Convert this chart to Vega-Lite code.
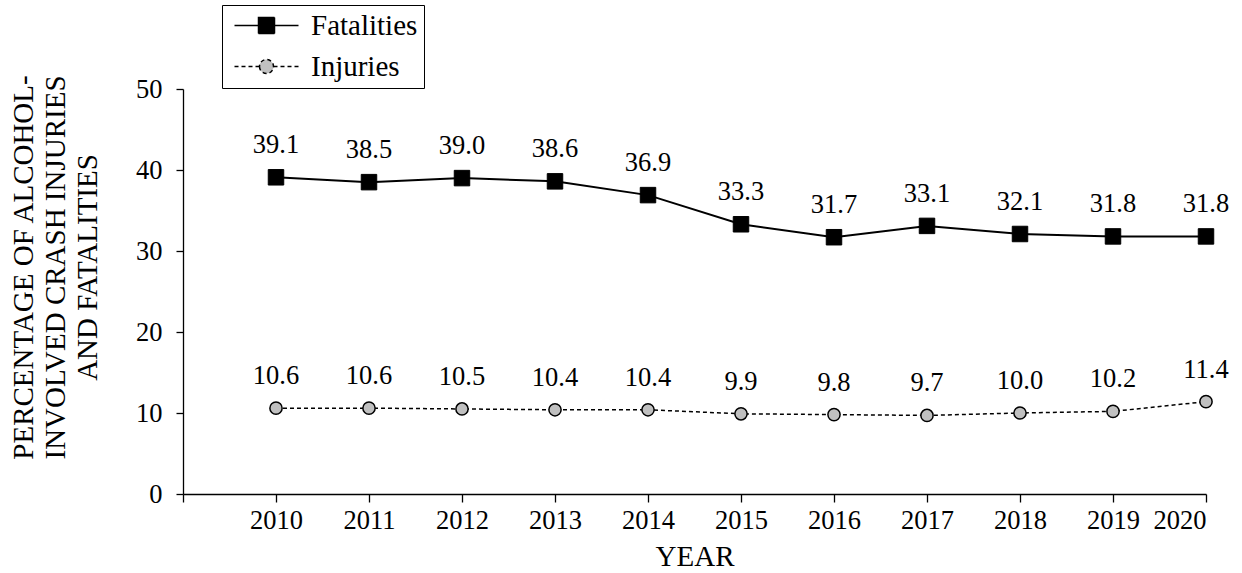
{
  "$schema": "https://vega.github.io/schema/vega-lite/v6.json",
  "width": 1023,
  "height": 405,
  "autosize": {"type": "none"},
  "padding": {"left": 183, "top": 89, "right": 36, "bottom": 79},
  "config": {
    "view": {"stroke": null},
    "font": "Liberation Serif",
    "text": {"font": "Liberation Serif"},
    "legend": {"labelFont": "Liberation Serif", "titleFont": "Liberation Serif"},
    "axis": {"grid": false, "domainColor": "black", "tickColor": "black", "labelColor": "black", "titleColor": "black", "labelFont": "Liberation Serif", "titleFont": "Liberation Serif", "titleFontWeight": "normal", "domainWidth": 1.3, "tickWidth": 1.3}
  },
  "data": {
    "values": [
      {"year": 2010, "series": "Fatalities", "value": 39.1},
      {"year": 2011, "series": "Fatalities", "value": 38.5},
      {"year": 2012, "series": "Fatalities", "value": 39.0},
      {"year": 2013, "series": "Fatalities", "value": 38.6},
      {"year": 2014, "series": "Fatalities", "value": 36.9},
      {"year": 2015, "series": "Fatalities", "value": 33.3},
      {"year": 2016, "series": "Fatalities", "value": 31.7},
      {"year": 2017, "series": "Fatalities", "value": 33.1},
      {"year": 2018, "series": "Fatalities", "value": 32.1},
      {"year": 2019, "series": "Fatalities", "value": 31.8},
      {"year": 2020, "series": "Fatalities", "value": 31.8},
      {"year": 2010, "series": "Injuries", "value": 10.6},
      {"year": 2011, "series": "Injuries", "value": 10.6},
      {"year": 2012, "series": "Injuries", "value": 10.5},
      {"year": 2013, "series": "Injuries", "value": 10.4},
      {"year": 2014, "series": "Injuries", "value": 10.4},
      {"year": 2015, "series": "Injuries", "value": 9.9},
      {"year": 2016, "series": "Injuries", "value": 9.8},
      {"year": 2017, "series": "Injuries", "value": 9.7},
      {"year": 2018, "series": "Injuries", "value": 10.0},
      {"year": 2019, "series": "Injuries", "value": 10.2},
      {"year": 2020, "series": "Injuries", "value": 11.4}
    ]
  },
  "encoding": {
    "x": {
      "field": "year", "type": "quantitative",
      "scale": {"domain": [2009, 2020], "nice": false, "zero": false},
      "axis": {
        "title": "YEAR", "titleFontSize": 29, "titleY": 48, "titleBaseline": "top",
        "values": [2009, 2010, 2011, 2012, 2013, 2014, 2015, 2016, 2017, 2018, 2019, 2020],
        "format": "d",
        "labelExpr": "datum.value == 2009 ? '' : datum.label",
        "labelFontSize": 26.5, "tickSize": 8, "labelPadding": 5
      }
    },
    "y": {
      "field": "value", "type": "quantitative",
      "scale": {"domain": [0, 50], "nice": false},
      "axis": {
        "title": ["PERCENTAGE OF ALCOHOL-", "INVOLVED CRASH INJURIES", "AND FATALITIES"],
        "titleFontSize": 29, "titleLineHeight": 32, "titleAngle": -90,
        "titleBaseline": "top", "titleAlign": "center", "titleX": -174, "titleY": 178,
        "values": [0, 10, 20, 30, 40, 50],
        "labelFontSize": 26.5, "tickSize": 7, "labelPadding": 14
      }
    }
  },
  "layer": [
    {
      "transform": [{"filter": "datum.series === 'Fatalities'"}],
      "mark": {"type": "line", "color": "black", "strokeWidth": 2}
    },
    {
      "transform": [{"filter": "datum.series === 'Injuries'"}],
      "mark": {"type": "line", "color": "black", "strokeWidth": 1.5, "strokeDash": [4, 3]}
    },
    {
      "transform": [{"filter": "datum.series === 'Fatalities'"}],
      "mark": {"type": "point", "shape": "square", "filled": true, "fill": "black", "stroke": "black", "strokeWidth": 1, "size": 240, "opacity": 1}
    },
    {
      "transform": [{"filter": "datum.series === 'Injuries'"}],
      "mark": {"type": "point", "shape": "circle", "filled": true, "fill": "#c0c0c0", "stroke": "black", "strokeWidth": 1.5, "size": 150, "opacity": 1}
    },
    {
      "mark": {"type": "point", "filled": true, "opacity": 0, "stroke": "black", "strokeWidth": 1.5, "size": 400},
      "encoding": {
        "shape": {
          "field": "series", "type": "nominal",
          "scale": {"domain": ["Fatalities", "Injuries"], "range": ["M-3.2,0L-0.8,0M0.8,0L3.2,0M-0.8,-0.8L0.8,-0.8L0.8,0.8L-0.8,0.8Z", "M-3.2,0L-0.7,0M0.7,0L3.2,0M-0.7,0A0.7,0.7 0 1,0 0.7,0A0.7,0.7 0 1,0 -0.7,0Z"]},
          "legend": {
            "title": null, "orient": "none", "legendX": 39, "legendY": -84,
            "padding": 6, "strokeColor": "black", "fillColor": "white",
            "labelFontSize": 29, "labelColor": "black", "symbolOpacity": 1,
            "symbolSize": 400, "symbolOffset": 24, "labelOffset": 30, "rowPadding": 11
          }
        },
        "fill": {
          "field": "series", "type": "nominal",
          "scale": {"domain": ["Fatalities", "Injuries"], "range": ["black", "#c0c0c0"]},
          "legend": {
            "title": null, "orient": "none", "legendX": 39, "legendY": -84,
            "padding": 6, "strokeColor": "black", "fillColor": "white",
            "labelFontSize": 29, "labelColor": "black", "symbolOpacity": 1,
            "symbolSize": 400, "symbolOffset": 24, "labelOffset": 30, "rowPadding": 11
          }
        },
        "strokeDash": {
          "field": "series", "type": "nominal",
          "scale": {"domain": ["Fatalities", "Injuries"], "range": [[1, 0], [4, 3]]},
          "legend": {
            "title": null, "orient": "none", "legendX": 39, "legendY": -84,
            "padding": 6, "strokeColor": "black", "fillColor": "white",
            "labelFontSize": 29, "labelColor": "black", "symbolOpacity": 1,
            "symbolSize": 400, "symbolOffset": 24, "labelOffset": 30, "rowPadding": 11
          }
        }
      }
    },
    {
      "mark": {"type": "text", "dy": -32, "fontSize": 26.5, "color": "black"},
      "encoding": {
        "text": {"field": "value", "type": "quantitative", "format": ".1f"}
      }
    }
  ]
}
